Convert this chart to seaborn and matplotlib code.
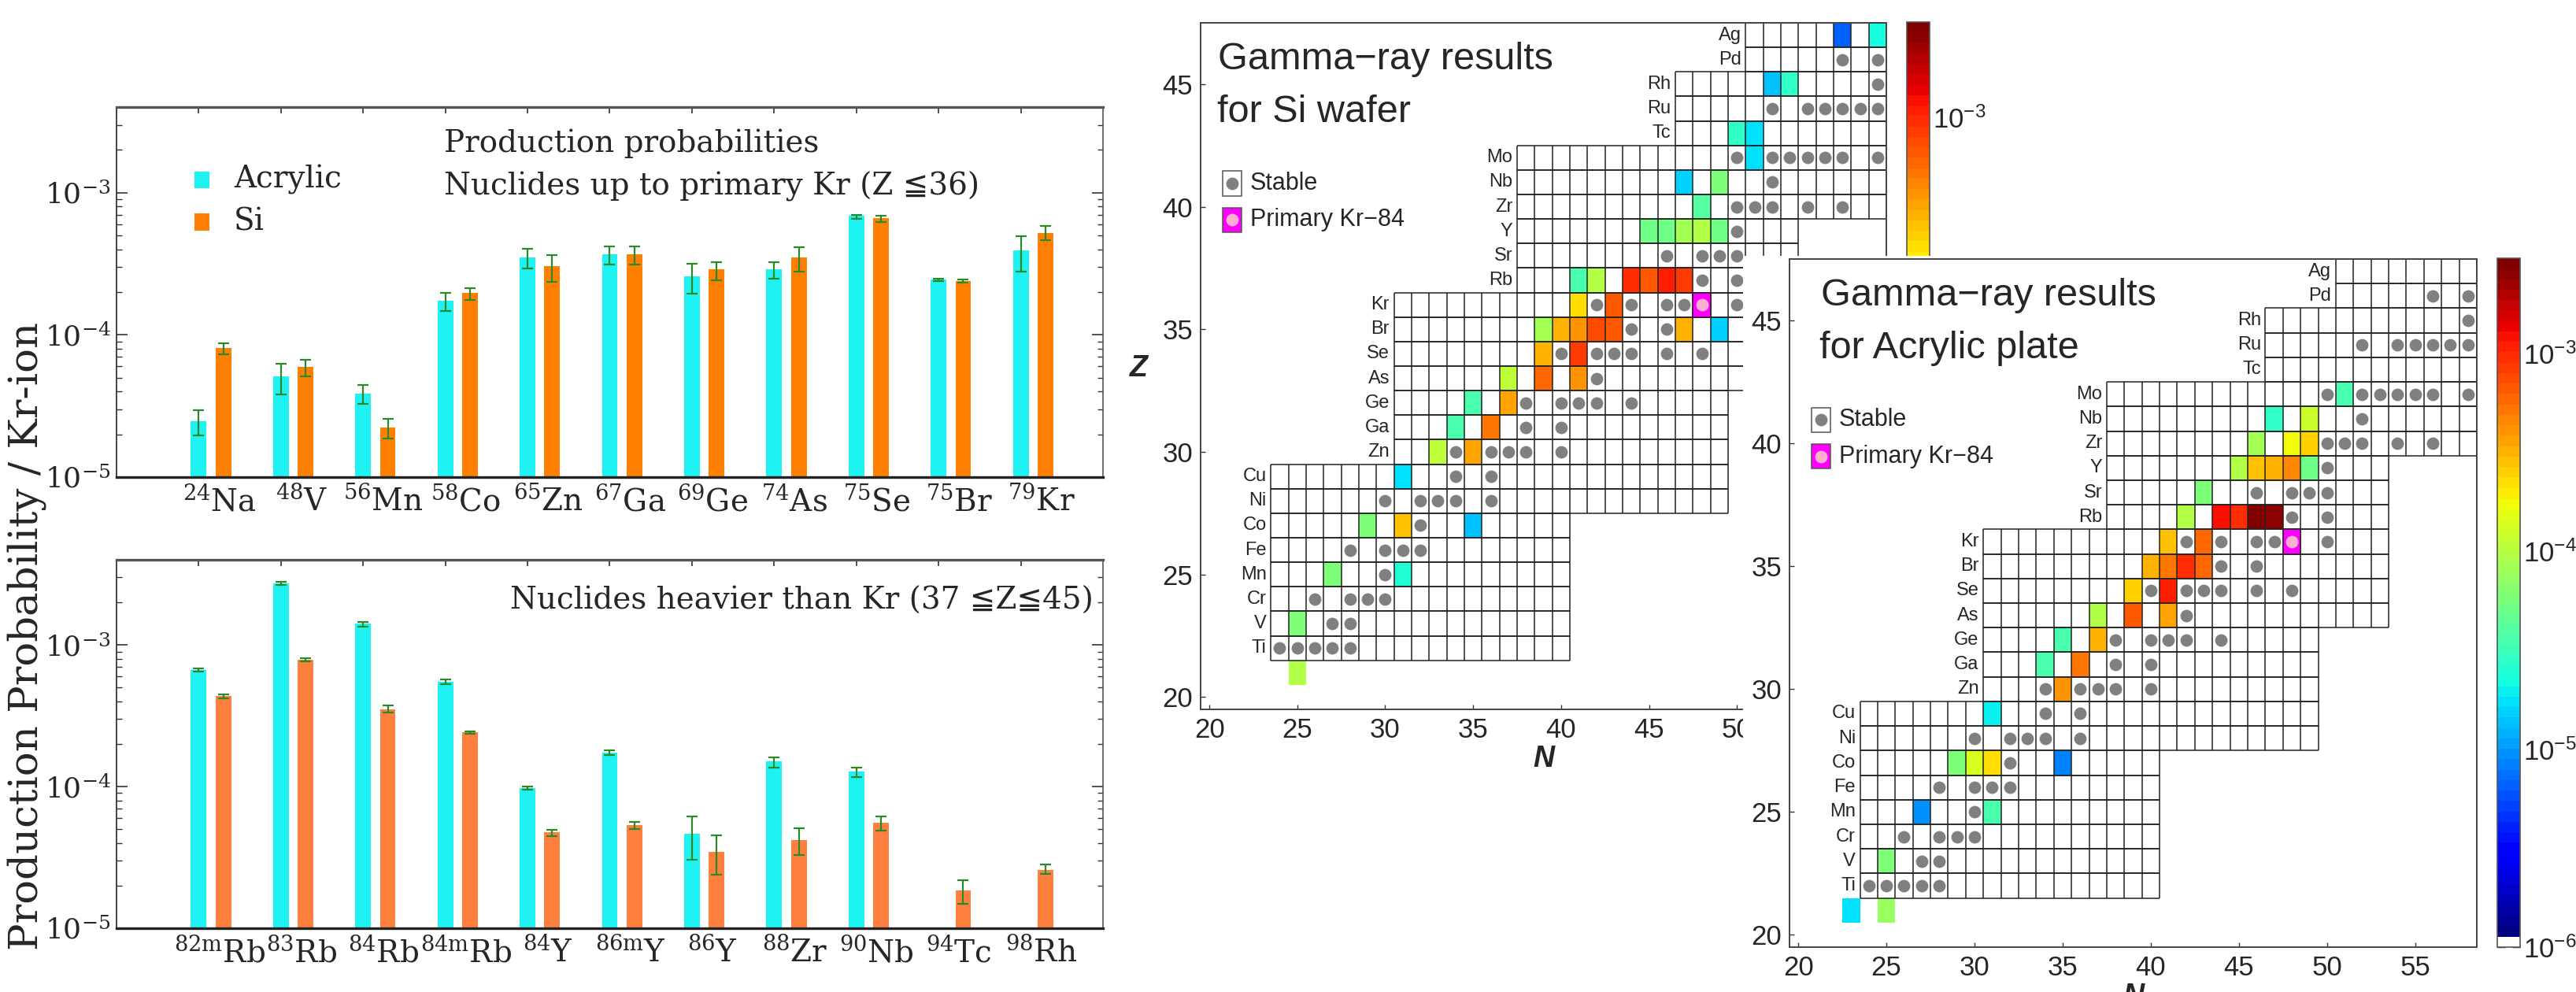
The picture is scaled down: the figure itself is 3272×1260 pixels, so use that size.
import numpy as np
import pandas as pd
import matplotlib
matplotlib.use("Agg")
import matplotlib.pyplot as plt
import seaborn as sns
from matplotlib.colors import LogNorm, ListedColormap
from matplotlib.patches import Rectangle
from matplotlib.collections import LineCollection
from matplotlib.ticker import FixedLocator, FixedFormatter, NullFormatter, LogLocator

sns.set_style("white")
SERIF = ["DejaVu Serif", "DejaVu Sans"]
SANS = ["Liberation Sans", "DejaVu Sans"]
plt.rcParams["font.family"] = SERIF
plt.rcParams["mathtext.fontset"] = "dejavuserif"

# ---------------- production probabilities (per Kr ion) ----------------
light_labels = [r"$^{24}$Na", r"$^{48}$V", r"$^{56}$Mn", r"$^{58}$Co", r"$^{65}$Zn",
                r"$^{67}$Ga", r"$^{69}$Ge", r"$^{74}$As", r"$^{75}$Se", r"$^{75}$Br",
                r"$^{79}$Kr"]
light_acrylic = [2.46e-5, 5.1e-5, 3.85e-5, 1.73e-4, 3.51e-4, 3.67e-4, 2.58e-4, 2.9e-4, 6.85e-4, 2.46e-4, 3.95e-4]
light_acrylic_lo = [1.96e-5, 3.8e-5, 3.28e-5, 1.48e-4, 2.92e-4, 3.13e-4, 1.96e-4, 2.47e-4, 6.55e-4, 2.38e-4, 2.78e-4]
light_acrylic_hi = [2.96e-5, 6.27e-5, 4.42e-5, 1.98e-4, 4.02e-4, 4.21e-4, 3.16e-4, 3.23e-4, 7.01e-4, 2.49e-4, 4.94e-4]
light_si = [8.13e-5, 5.99e-5, 2.23e-5, 1.98e-4, 3.05e-4, 3.67e-4, 2.9e-4, 3.51e-4, 6.61e-4, 2.4e-4, 5.21e-4]
light_si_lo = [7.26e-5, 5.1e-5, 1.86e-5, 1.77e-4, 2.36e-4, 3.13e-4, 2.41e-4, 2.78e-4, 6.2e-4, 2.32e-4, 4.61e-4]
light_si_hi = [8.7e-5, 6.71e-5, 2.56e-5, 2.13e-4, 3.65e-4, 4.21e-4, 3.25e-4, 4.12e-4, 6.88e-4, 2.46e-4, 5.84e-4]

heavy_labels = [r"$^{\mathrm{82m}}$Rb", r"$^{83}$Rb", r"$^{84}$Rb", r"$^{\mathrm{84m}}$Rb", r"$^{84}$Y",
                r"$^{\mathrm{86m}}$Y", r"$^{86}$Y", r"$^{88}$Zr", r"$^{90}$Nb", r"$^{94}$Tc", r"$^{98}$Rh"]
heavy_acrylic = [6.64e-4, 2.73e-3, 1.41e-3, 5.5e-4, 9.75e-5, 1.73e-4, 4.63e-5, 1.50e-4, 1.27e-4, np.nan, np.nan]
heavy_acrylic_lo = [6.48e-4, 2.64e-3, 1.35e-3, 5.29e-4, 9.47e-5, 1.676e-4, 3.03e-5, 1.36e-4, 1.17e-4, np.nan, np.nan]
heavy_acrylic_hi = [6.86e-4, 2.79e-3, 1.46e-3, 5.71e-4, 1.007e-4, 1.815e-4, 6.14e-5, 1.61e-4, 1.36e-4, np.nan, np.nan]
heavy_si = [4.34e-4, 7.83e-4, 3.51e-4, 2.41e-4, 4.74e-5, 5.33e-5, 3.44e-5, 4.21e-5, 5.59e-5, 1.86e-5, 2.59e-5]
heavy_si_lo = [4.18e-4, 7.64e-4, 3.35e-4, 2.36e-4, 4.48e-5, 5.04e-5, 2.39e-5, 3.3e-5, 4.92e-5, 1.49e-5, 2.41e-5]
heavy_si_hi = [4.49e-4, 8.09e-4, 3.73e-4, 2.45e-4, 4.97e-5, 5.6e-5, 4.52e-5, 5.08e-5, 6.14e-5, 2.18e-5, 2.82e-5]

# ---------------- gamma-ray results on the chart of nuclides ----------------
si_Z = [21, 23, 25, 25, 27, 27, 27, 29, 30, 30, 31, 31, 32, 32, 33, 33, 33, 34, 34,
        35, 35, 35, 35, 35, 35, 35, 36, 36, 37, 37, 37, 37, 37, 37, 39, 39, 39, 39, 39,
        40, 41, 41, 42, 43, 43, 45, 45, 47, 47]
si_N = [25, 25, 27, 31, 29, 31, 35, 31, 33, 35, 34, 36, 35, 37, 37, 39, 41, 39, 41,
        39, 40, 41, 42, 43, 47, 49, 41, 43, 41, 42, 44, 45, 46, 47, 45, 46, 47, 48, 49,
        48, 47, 49, 51, 50, 51, 52, 53, 56, 58]
si_value = [9.0e-5, 6.2e-5, 5.5e-5, 2.6e-5, 5.5e-5, 2.8e-4, 1.3e-5, 1.8e-5, 1.1e-4, 3.7e-4,
            3.8e-5, 5.0e-4, 3.8e-5, 3.7e-4, 1.1e-4, 5.6e-4, 4.0e-4, 3.3e-4, 8.3e-4,
            8.0e-5, 3.1e-4, 4.0e-4, 7.4e-4, 6.5e-4, 3.3e-4, 1.5e-5, 2.2e-4, 6.5e-4,
            3.4e-5, 9.6e-5, 9.7e-4, 6.5e-4, 1.1e-3, 8.3e-4, 4.9e-5, 4.9e-5, 8.0e-5, 1.0e-4, 4.9e-5,
            4.3e-5, 1.6e-5, 5.5e-5, 1.8e-5, 2.9e-5, 1.8e-5, 1.3e-5, 2.9e-5, 6.6e-6, 2.2e-5]

acr_Z = [21, 21, 23, 25, 25, 27, 27, 27, 27, 29, 30, 31, 31, 32, 32, 33, 33, 33, 34, 34,
         35, 35, 35, 35, 36, 36, 37, 37, 37, 37, 37, 38, 39, 39, 39, 39, 39,
         40, 40, 40, 41, 41, 42]
acr_N = [23, 25, 25, 27, 31, 29, 30, 31, 35, 31, 35, 34, 36, 35, 37, 37, 39, 41, 39, 41,
         40, 41, 42, 43, 41, 43, 42, 44, 45, 46, 47, 43, 45, 46, 47, 48, 49,
         46, 48, 49, 47, 49, 51]
acr_value = [1.7e-5, 7.1e-5, 5.5e-5, 9.3e-6, 3.8e-5, 6.2e-5, 1.3e-4, 2.2e-4, 8.3e-6, 1.9e-5,
             4.0e-4, 3.4e-5, 5.0e-4, 3.4e-5, 3.3e-4, 9.0e-5, 6.5e-4, 3.7e-4, 2.6e-4, 1.1e-3,
             3.1e-4, 5.0e-4, 9.7e-4, 5.6e-4, 2.9e-4, 5.6e-4, 9.6e-5, 1.26e-3, 9.7e-4, 2.9e-3, 2.6e-3,
             6.2e-5, 1.0e-4, 2.8e-4, 3.1e-4, 4.7e-4, 4.9e-5,
             8.0e-5, 1.7e-4, 2.6e-4, 2.9e-5, 1.25e-4, 3.8e-5]

stable_Z = [22, 22, 22, 22, 22, 23, 23, 24, 24, 24, 24, 25, 26, 26, 26, 26, 27,
            28, 28, 28, 28, 28, 29, 29, 30, 30, 30, 30, 30, 31, 31, 32, 32, 32, 32, 32, 33,
            34, 34, 34, 34, 34, 34, 35, 35, 36, 36, 36, 36, 36, 37, 37, 38, 38, 38, 38, 39,
            40, 40, 40, 40, 40, 41, 42, 42, 42, 42, 42, 42, 42, 44, 44, 44, 44, 44, 44, 45, 46, 46]
stable_N = [24, 25, 26, 27, 28, 27, 28, 26, 28, 29, 30, 30, 28, 30, 31, 32, 32,
            30, 32, 33, 34, 36, 34, 36, 34, 36, 37, 38, 40, 38, 40, 38, 40, 41, 42, 44, 42,
            40, 42, 43, 44, 46, 48, 44, 46, 42, 44, 46, 47, 50, 48, 50, 46, 48, 49, 50, 50,
            50, 51, 52, 54, 56, 52, 50, 52, 53, 54, 55, 56, 58, 52, 54, 55, 56, 57, 58, 58, 56, 58]
primary_Z, primary_N = 36, 48

elements = {22: "Ti", 23: "V", 24: "Cr", 25: "Mn", 26: "Fe", 27: "Co", 28: "Ni", 29: "Cu",
            30: "Zn", 31: "Ga", 32: "Ge", 33: "As", 34: "Se", 35: "Br", 36: "Kr", 37: "Rb",
            38: "Sr", 39: "Y", 40: "Zr", 41: "Nb", 42: "Mo", 43: "Tc", 44: "Ru", 45: "Rh",
            46: "Pd", 47: "Ag"}
# (first Z, last Z, first N, last N) of each block of drawn cells
row_blocks = [(22, 27, 24, 40), (28, 29, 24, 49), (30, 32, 31, 49), (33, 36, 31, 53),
              (37, 39, 38, 53), (40, 42, 38, 58), (43, 45, 47, 58), (46, 47, 51, 58)]

N_AXIS = np.arange(20, 59)
Z_AXIS = np.arange(47, 19, -1)

ACRYLIC_C = "#1ff2f2"
SI_C = "#ff8000"
SI_C2 = "#ff7f3f"
ERR_C = "#2a8a2a"

CMAP = ListedColormap(["white"] + list(plt.get_cmap("jet")(np.linspace(0, 1, 65))))
NORM = LogNorm(vmin=1e-6, vmax=10 ** -2.52)

W, H = 3273, 1260
fig = plt.figure(figsize=(W / 100, H / 100), dpi=100)


def px_axes(left, top, right, bottom):
    return fig.add_axes([left / W, 1 - bottom / H, (right - left) / W, (bottom - top) / H])


# ======================= bar charts =======================
def draw_bars(ax, labels, acr, acr_lo, acr_hi, si, si_lo, si_hi, si_color):
    ax.set_yscale("log")
    idx = np.arange(len(labels))
    for offset, vals, lo, hi, color in [(0.0, acr, acr_lo, acr_hi, ACRYLIC_C),
                                        (0.30, si, si_lo, si_hi, si_color)]:
        df = pd.DataFrame({"pos": idx + offset, "value": vals, "lo": lo, "hi": hi}).dropna()
        sns.barplot(data=df, x="pos", y="value", native_scale=True, width=0.19,
                    color=color, saturation=1, errorbar=None, linewidth=0, ax=ax)
        ax.errorbar(df["pos"], df["value"],
                    yerr=[df["value"] - df["lo"], df["hi"] - df["value"]],
                    fmt="none", ecolor=ERR_C, elinewidth=1.6, capsize=5, capthick=1.6, zorder=3)
    ax.set_xlim(-1, 11)
    ax.set_ylim(1e-5, 4e-3)
    ax.set_xlabel("")
    ax.set_ylabel("")
    ax.set_xticks(idx)
    ax.set_xticklabels([])
    ax.set_xticks(idx + 0.25, labels, minor=True)
    ax.tick_params(axis="x", which="major", top=True, bottom=False, direction="in",
                   length=6, width=1.2, color="#333")
    ax.tick_params(axis="x", which="minor", bottom=True, length=0, labelsize=28, pad=8)
    ax.set_yticks([1e-5, 1e-4, 1e-3], [r"$10^{-5}$", r"$10^{-4}$", r"$10^{-3}$"])
    ax.yaxis.set_minor_locator(LogLocator(base=10, subs=np.arange(2, 10)))
    ax.yaxis.set_minor_formatter(NullFormatter())
    ax.tick_params(axis="y", which="major", left=True, right=True, direction="in",
                   length=10, width=1.2, labelsize=26, pad=5, color="#333")
    ax.tick_params(axis="y", which="minor", left=True, right=True, direction="in",
                   length=5, width=1.0, color="#333")
    for name, sp in ax.spines.items():
        sp.set_visible(True)
        sp.set_color("#222" if name in ("bottom", "left") else "#555")
        sp.set_linewidth(2.4 if name in ("top", "bottom") else 1.2)


ax_top = px_axes(148, 136, 1401, 606)
draw_bars(ax_top, light_labels, light_acrylic, light_acrylic_lo, light_acrylic_hi,
          light_si, light_si_lo, light_si_hi, SI_C)
ax_top.text(0.332, 0.902, "Production probabilities", transform=ax_top.transAxes,
            ha="left", va="center", fontsize=28, family=SERIF)
ax_top.text(0.332, 0.785, "Nuclides up to primary Kr (Z \u226636)", transform=ax_top.transAxes,
            ha="left", va="center", fontsize=28, family=SERIF)
for y0, h, color, name, ty in [(0.781, 0.045, ACRYLIC_C, "Acrylic", 0.804),
                               (0.666, 0.047, SI_C, "Si", 0.689)]:
    ax_top.add_patch(Rectangle((0.079, y0), 0.0152, h, transform=ax_top.transAxes,
                               facecolor=color, edgecolor="none"))
    ax_top.text(0.119, ty, name, transform=ax_top.transAxes, ha="left", va="center",
                fontsize=28, family=SERIF)

ax_bot = px_axes(148, 711, 1401, 1179)
draw_bars(ax_bot, heavy_labels, heavy_acrylic, heavy_acrylic_lo, heavy_acrylic_hi,
          heavy_si, heavy_si_lo, heavy_si_hi, SI_C2)
ax_bot.text(0.990, 0.889, "Nuclides heavier than Kr (37 \u2266Z\u226645)", transform=ax_bot.transAxes,
            ha="right", va="center", fontsize=28, family=SERIF)

fig.text(34 / W, 1 - 808 / H, "Production Probability / Kr-ion", rotation=90,
         ha="center", va="center", fontsize=37, family=SERIF)


# ======================= nuclide charts =======================
def fx(n):
    return np.asarray(n, dtype=float) - 19.5


def fy(z):
    return 47.5 - np.asarray(z, dtype=float)


def draw_chart(ax, cax, Zs, Ns, vals, title1, title2, t1x, t2x, n_ticks, cbar_labels):
    grid = pd.DataFrame(np.nan, index=Z_AXIS, columns=N_AXIS)
    for z, n, v in zip(Zs, Ns, vals):
        grid.loc[z, n] = v
    sns.heatmap(grid, ax=ax, cbar_ax=cax, cmap=CMAP, norm=NORM,
                xticklabels=False, yticklabels=False, linewidths=0)

    # cell borders of the chart blocks
    segs = []
    for z0, z1, n0, n1 in row_blocks:
        for z in range(z0, z1 + 1):
            for zz in (z - 0.5, z + 0.5):
                segs.append([(fx(n0 - 0.5), fy(zz)), (fx(n1 + 0.5), fy(zz))])
            for n in range(n0, n1 + 2):
                segs.append([(fx(n - 0.5), fy(z - 0.5)), (fx(n - 0.5), fy(z + 0.5))])
    ax.add_collection(LineCollection(segs, colors="#222222", linewidths=1.1, zorder=2))

    # element symbols
    for z0, z1, n0, n1 in row_blocks:
        for z in range(z0, z1 + 1):
            ax.text(fx(n0 - 0.5) - 0.25, fy(z), elements[z], ha="right", va="center",
                    fontsize=17, family=SANS)

    # stable nuclides and the primary beam nucleus
    ax.scatter(fx(stable_N), fy(stable_Z), s=130, color="#808080", linewidths=0, zorder=3)
    ax.add_patch(Rectangle((fx(primary_N) - 0.5, fy(primary_Z) - 0.5), 1, 1,
                           facecolor="#ff00ff", edgecolor="#222", linewidth=1.1, zorder=2.5))
    ax.scatter([fx(primary_N)], [fy(primary_Z)], s=130, color="#ffb0d0", linewidths=0, zorder=3)

    # legend
    ax.add_patch(Rectangle((1.26, 6.05), 1.08, 1.0, facecolor="white", edgecolor="#555",
                           linewidth=1.1, zorder=2.5))
    ax.scatter([1.80], [6.55], s=130, color="#808080", linewidths=0, zorder=3)
    ax.add_patch(Rectangle((1.26, 7.53), 1.08, 1.0, facecolor="#ff00ff", edgecolor="#555",
                           linewidth=1.1, zorder=2.5))
    ax.scatter([1.80], [8.03], s=130, color="#ffb0d0", linewidths=0, zorder=3)
    ax.text(2.8, 6.55, "Stable", ha="left", va="center", fontsize=22, family=SANS)
    ax.text(2.8, 8.03, "Primary Kr\u221284", ha="left", va="center", fontsize=22, family=SANS)

    ax.text(t1x, 1.5, title1, ha="left", va="center", fontsize=35, family=SANS)
    ax.text(t2x, 3.65, title2, ha="left", va="center", fontsize=35, family=SANS)

    ax.set_xticks(fx(n_ticks), [str(v) for v in n_ticks])
    ax.set_yticks(fy(np.arange(20, 50, 5)), [str(v) for v in range(20, 50, 5)])
    ax.tick_params(axis="both", which="major", direction="in", length=4, width=1,
                   labelsize=25, bottom=True, left=True, top=False, right=False, pad=7,
                   color="#333")
    for lab in ax.get_xticklabels() + ax.get_yticklabels():
        lab.set_family(SANS)
        lab.set_rotation(0)
    for sp in ax.spines.values():
        sp.set_visible(True)
        sp.set_color("#444")
        sp.set_linewidth(1.4)
    ax.set_xlabel("N", fontsize=27, style="italic", fontweight="bold", family=SANS, labelpad=2)

    cb = ax.collections[0].colorbar
    cb.outline.set_visible(True)
    cb.outline.set_linewidth(1.2)
    cb.outline.set_edgecolor("#555")
    cax.yaxis.set_major_locator(FixedLocator([1e-6, 1e-5, 1e-4, 1e-3]))
    cax.yaxis.set_major_formatter(FixedFormatter(cbar_labels))
    cax.yaxis.set_minor_locator(FixedLocator([10 ** -5.5, 10 ** -4.5, 10 ** -3.5]))
    cax.yaxis.set_minor_formatter(NullFormatter())
    cax.tick_params(which="both", direction="in", left=True, right=True, length=7,
                    width=1.0, color="#222", labelsize=25, pad=3)
    for lab in cax.get_yticklabels():
        lab.set_family(SANS)


DECADES = [r"$\mathregular{10^{-6}}$", r"$\mathregular{10^{-5}}$",
           r"$\mathregular{10^{-4}}$", r"$\mathregular{10^{-3}}$"]

ax_si = px_axes(1525, 29, 2396, 901)
cax_si = px_axes(2422, 28, 2451, 903)
# only the upper part of the Si colour scale stays uncovered
draw_chart(ax_si, cax_si, si_Z, si_N, si_value, "Gamma\u2212ray results", "for Si wafer",
           0.98, 0.92, np.arange(20, 55, 5), ["", "", "", DECADES[3]])
ax_si.set_ylabel("Z", fontsize=27, style="italic", fontweight="bold", family=SANS,
                 rotation=0, ha="center", va="center")
ax_si.yaxis.set_label_coords(-0.090, 0.497)

# white panel holding the acrylic chart, laid over the Si chart
cover = px_axes(2214, 325, 3273, 1260)
cover.set_facecolor("white")
cover.set_xticks([])
cover.set_yticks([])
for sp in cover.spines.values():
    sp.set_visible(False)

ax_ac = px_axes(2273, 329, 3146, 1203)
cax_ac = px_axes(3172, 328, 3201, 1203)
draw_chart(ax_ac, cax_ac, acr_Z, acr_N, acr_value, "Gamma\u2212ray results", "for Acrylic plate",
           1.8, 1.7, np.arange(20, 60, 5), DECADES)

fig.savefig("out.png", dpi=100)
